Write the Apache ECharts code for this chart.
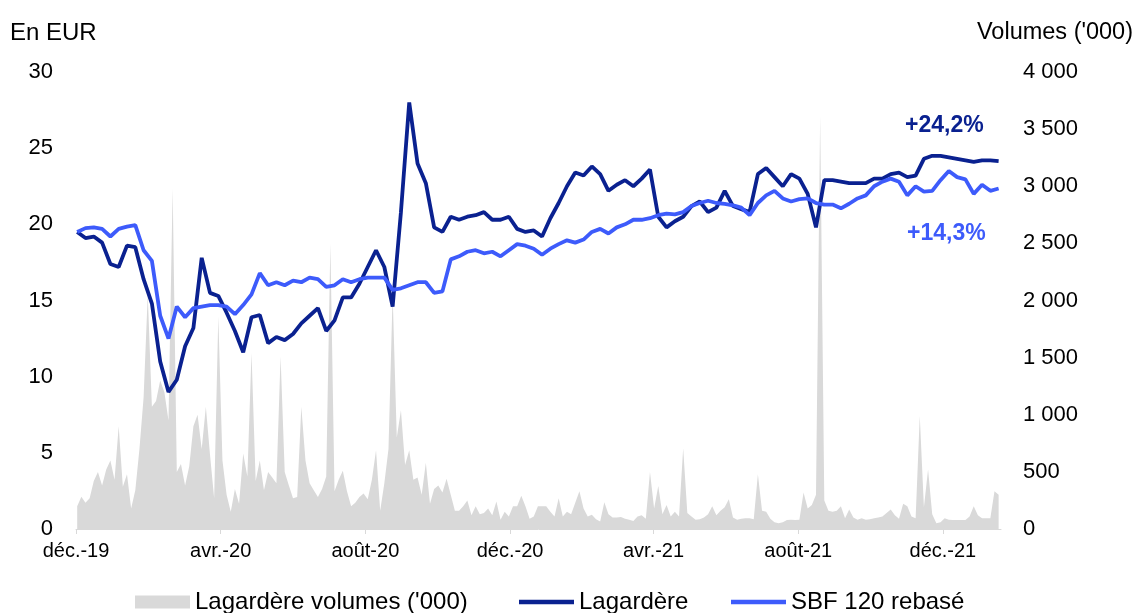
<!DOCTYPE html>
<html>
<head>
<meta charset="UTF-8">
<title>Lagardère vs SBF 120</title>
<script src="https://cdn.jsdelivr.net/npm/echarts@6/dist/echarts.min.js"></script>
<style>
  html, body { margin: 0; padding: 0; background: #fff; }
  #main { width: 1137px; height: 613px; }
</style>
</head>
<body>
<div id="main"></div>
<script>
// start of the date axis, and tick labels (every 4 months)
const startDate = '2019-12-01';
const xLabelDates = ['2019-12-01', '2020-04-01', '2020-08-01', '2020-12-01', '2021-04-01', '2021-08-01', '2021-12-01'];
const xLabels = ['déc.-19', 'avr.-20', 'août-20', 'déc.-20', 'avr.-21', 'août-21', 'déc.-21'];

// weekly closes (EUR), first week starts 2019-12-02
const lagardere = [
  19.5, 19.1, 19.2, 18.8, 17.4, 17.2, 18.6, 18.5, 16.4, 14.8,
  11.0, 9.0, 9.8, 12.0, 13.2, 17.8, 15.5, 15.3, 14.2, 13.0,
  11.6, 13.9, 14.05, 12.2, 12.6, 12.4, 12.8, 13.5, 14.0, 14.5,
  13.0, 13.7, 15.2, 15.2, 16.1, 17.2, 18.3, 17.2, 14.6, 20.8,
  28.0, 24.0, 22.7, 19.8, 19.5, 20.5, 20.3, 20.5, 20.6, 20.8,
  20.3, 20.3, 20.5, 19.7, 19.5, 19.6, 19.2, 20.4, 21.4, 22.5,
  23.4, 23.2, 23.8, 23.3, 22.2, 22.6, 22.9, 22.5, 23.0, 23.6,
  20.5, 19.8, 20.2, 20.5, 21.2, 21.5, 20.8, 21.1, 22.2, 21.2,
  21.0, 20.8, 23.3, 23.7, 23.1, 22.5, 23.3, 23.0, 22.0, 19.8,
  22.9, 22.9, 22.8, 22.7, 22.7, 22.7, 23.0, 23.0, 23.3, 23.4,
  23.1, 23.2, 24.3, 24.5, 24.5, 24.4, 24.3, 24.2, 24.1, 24.2,
  24.2, 24.15
];
const sbf120 = [
  19.5, 19.75, 19.8, 19.7, 19.2, 19.7, 19.85, 19.95, 18.3, 17.6,
  14.0, 12.5, 14.6, 13.9, 14.5, 14.6, 14.7, 14.7, 14.6, 14.1,
  14.7, 15.4, 16.8, 16.0, 16.2, 16.0, 16.3, 16.2, 16.5, 16.4,
  15.9, 16.0, 16.4, 16.2, 16.4, 16.5, 16.5, 16.5, 15.7, 15.8,
  16.0, 16.2, 16.2, 15.5, 15.6, 17.7, 17.9, 18.2, 18.3, 18.1,
  18.2, 17.9, 18.3, 18.7, 18.6, 18.4, 18.0, 18.4, 18.7, 18.95,
  18.8, 19.0, 19.5, 19.7, 19.4, 19.8, 20.0, 20.3, 20.3, 20.4,
  20.6, 20.7, 20.65, 20.8, 21.2, 21.4, 21.55, 21.4, 21.35, 21.25,
  21.1, 20.6, 21.4, 21.9, 22.2, 21.7, 21.5, 21.65, 21.7, 21.4,
  21.3, 21.3, 21.05, 21.35, 21.7, 21.9, 22.5, 22.8, 23.0, 22.8,
  21.9, 22.5, 22.15, 22.2, 22.9, 23.5, 23.1, 22.95, 22.0, 22.6,
  22.2, 22.35
];

// volumes ('000), two readings per week
const volumes = [
  200, 283, 230, 270, 420, 500, 380, 520, 600, 430,
  900, 370, 480, 180, 340, 700, 1150, 2050, 1070, 1120,
  1300, 1200, 950, 2980, 500, 570, 380, 550, 900, 1000,
  700, 1070, 650, 270, 1860, 600, 300, 150, 350, 220,
  660, 460, 1540, 420, 600, 340, 500, 450, 400, 1510,
  500, 380, 270, 280, 1070, 600, 400, 340, 280, 350,
  460, 2500, 330, 430, 510, 330, 200, 230, 280, 310,
  260, 430, 690, 160, 400, 700, 2050, 800, 1040, 560,
  690, 430, 450, 300, 580, 220, 350, 380, 320, 440,
  300, 160, 160, 200, 250, 120, 200, 130, 140, 180,
  120, 240, 80, 150, 110, 200, 200, 290, 200, 90,
  110, 200, 200, 200, 150, 110, 270, 110, 150, 130,
  230, 330, 180, 110, 125, 85, 65, 235, 130, 100,
  100, 105, 90, 80, 70, 110, 120, 90, 500, 180,
  377, 130, 210, 110, 150, 110, 706, 140, 110, 80,
  85, 100, 130, 200, 120, 160, 190, 260, 100, 80,
  90, 95, 94, 85, 480, 160, 150, 90, 60, 50,
  60, 78, 80, 78, 80, 320, 180, 210, 300, 3620,
  250, 160, 150, 160, 200, 95, 170, 100, 80, 94,
  80, 85, 94, 100, 110, 140, 170, 120, 90, 220,
  200, 110, 94, 990, 190, 520, 130, 50, 60, 94,
  80, 78, 78, 78, 78, 110, 200, 120, 94, 94,
  94, 330, 300
];

const DAY = 86400000;
const dayOf = d => (Date.parse(d) - Date.parse(startDate)) / DAY;
const tickDays = xLabelDates.map(dayOf);

// days since startDate
const lagData = lagardere.map((v, i) => [1 + 7 * i, v]);
const sbfData = sbf120.map((v, i) => [1 + 7 * i, v]);
const volData = volumes.map((v, i) => [1 + 3.5 * i, v]);

const FONT = "'Liberation Sans', Arial, sans-serif";
const DARK = '#0a2190';
const BLUE = '#3d5bfb';
const AXIS_FS = 22;
const TEXT_FS = 24;
const LINE_ICON = 'path://M0,4 L55,4 L55,8.5 L0,8.5 Z';

function labelFor(v) {
  let k = tickDays.findIndex(d => Math.abs(d - v) < 3);
  return k >= 0 ? xLabels[k] : '';
}

// one legend per item so each sits where the original puts it
function legendAt(left, name, icon) {
  return {
    left: left,
    top: 585,
    itemWidth: 55,
    itemHeight: 13,
    itemGap: 5,
    textStyle: { fontSize: TEXT_FS, color: '#000', fontFamily: FONT },
    data: [{ name: name, icon: icon }]
  };
}

const chart = echarts.init(document.getElementById('main'), null, { renderer: 'canvas' });
chart.setOption({
  animation: false,
  textStyle: { fontFamily: FONT },
  grid: { left: 76, right: 136, top: 72, bottom: 84 },
  legend: [
    legendAt(130, "Lagardère volumes ('000)", 'rect'),
    legendAt(514, 'Lagardère', LINE_ICON),
    legendAt(726, 'SBF 120 rebasé', LINE_ICON)
  ],
  xAxis: {
    type: 'value',
    min: 0,
    max: 780,
    interval: 122,
    axisLine: { show: true, lineStyle: { color: '#d9d9d9', width: 1 } },
    axisTick: { show: true, length: 5, customValues: tickDays, lineStyle: { color: '#d9d9d9' } },
    axisLabel: {
      customValues: tickDays,
      formatter: labelFor,
      fontSize: 20, color: '#000', margin: 12, fontFamily: FONT
    },
    splitLine: { show: false }
  },
  yAxis: [
    {
      type: 'value', min: 0, max: 30, interval: 5,
      axisLine: { show: false }, axisTick: { show: false }, splitLine: { show: false },
      axisLabel: { fontSize: AXIS_FS, color: '#000', margin: 23, fontFamily: FONT }
    },
    {
      type: 'value', min: 0, max: 4000, interval: 500,
      axisLine: { show: false }, axisTick: { show: false }, splitLine: { show: false },
      axisLabel: {
        fontSize: AXIS_FS, color: '#000', margin: 22, fontFamily: FONT,
        formatter: v => String(v).replace(/\B(?=(\d{3})+(?!\d))/g, ' ')
      }
    }
  ],
  graphic: [
    { type: 'text', left: 10, top: 21, style: { text: 'En EUR', font: TEXT_FS + 'px ' + FONT, fill: '#000' } },
    { type: 'text', right: 4, top: 21, style: { text: "Volumes ('000)", font: '23.5px ' + FONT, fill: '#000' } },
    { type: 'text', left: 905, top: 114, style: { text: '+24,2%', font: 'bold 23px ' + FONT, fill: DARK } },
    { type: 'text', left: 907, top: 222, style: { text: '+14,3%', font: 'bold 23px ' + FONT, fill: BLUE } }
  ],
  series: [
    {
      name: "Lagardère volumes ('000)",
      type: 'line',
      yAxisIndex: 1,
      data: volData,
      symbol: 'none',
      lineStyle: { width: 0 },
      itemStyle: { color: '#d9d9d9' },
      areaStyle: { color: '#d9d9d9', opacity: 1 }
    },
    {
      name: 'Lagardère',
      type: 'line',
      data: lagData,
      symbol: 'none',
      lineStyle: { color: DARK, width: 3.8 },
      itemStyle: { color: DARK }
    },
    {
      name: 'SBF 120 rebasé',
      type: 'line',
      data: sbfData,
      symbol: 'none',
      lineStyle: { color: BLUE, width: 3.8 },
      itemStyle: { color: BLUE }
    }
  ]
});
</script>
</body>
</html>
